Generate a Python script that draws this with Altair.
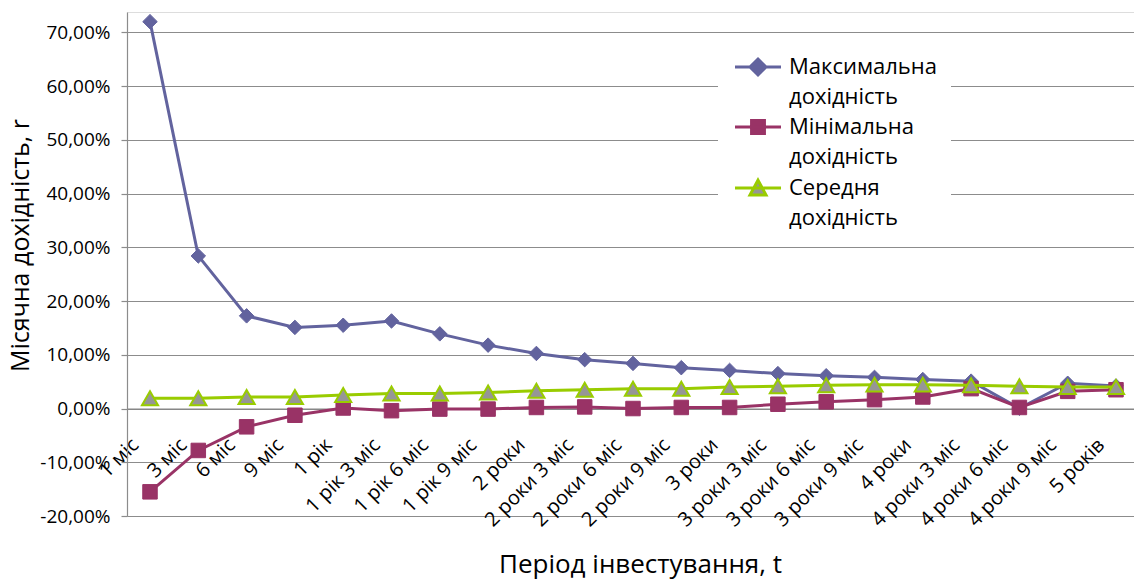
import altair as alt
import pandas as pd

periods = ["1 міс", "3 міс", "6 міс", "9 міс", "1 рік", "1 рік 3 міс", "1 рік 6 міс",
           "1 рік 9 міс", "2 роки", "2 роки 3 міс", "2 роки 6 міс", "2 роки 9 міс",
           "3 роки", "3 роки 3 міс", "3 роки 6 міс", "3 роки 9 міс", "4 роки",
           "4 роки 3 міс", "4 роки 6 міс", "4 роки 9 міс", "5 років"]
max_ret = [0.720, 0.284, 0.1725, 0.151, 0.155, 0.163, 0.139, 0.118, 0.1025, 0.091, 0.084,
           0.076, 0.071, 0.065, 0.061, 0.058, 0.054, 0.051, 0.0005, 0.047, 0.042]
min_ret = [-0.155, -0.078, -0.034, -0.0125, 0.001, -0.004, -0.001, -0.001, 0.002, 0.003, 0.0,
           0.002, 0.002, 0.008, 0.0125, 0.0165, 0.0215, 0.037, 0.002, 0.032, 0.035]
mean_ret = [0.019, 0.019, 0.0215, 0.0215, 0.025, 0.028, 0.028, 0.030, 0.033, 0.035, 0.037,
            0.037, 0.040, 0.0415, 0.0435, 0.0445, 0.0445, 0.0435, 0.0415, 0.040, 0.040]
series_names = ["Максимальна дохідність", "Мінімальна дохідність", "Середня дохідність"]
y_ticks = [-0.2, -0.1, 0.0, 0.1, 0.2, 0.3, 0.4, 0.5, 0.6, 0.7]

FONT = "Open Sans"
C_MAX, C_MIN, C_MEAN, C_GRAY = "#62639E", "#993366", "#99CC00", "#969696"
W, H = 1007, 504
Y_DOM = [-0.2, 0.738]
x_axis_offset = -(0 - Y_DOM[0]) / (Y_DOM[1] - Y_DOM[0]) * H

rows = []
for name, vals in zip(series_names, [max_ret, min_ret, mean_ret]):
    for p, v in zip(periods, vals):
        rows.append({"period": p, "value": v, "series": name})
df = pd.DataFrame(rows)

x_enc = alt.X("period:N", sort=periods,
              scale=alt.Scale(type="point", padding=0.4245, align=0.561),
              axis=alt.Axis(title="Період інвестування, t", labelAngle=-45, labelAlign="right",
                            labelBaseline="middle", labelPadding=33, labelOffset=-15,
                            ticks=False, tickSize=0, domainColor="#868686", domainWidth=1.2,
                            grid=False, offset=x_axis_offset, labelOverlap=False, labelLimit=400,
                            labelFont=FONT, labelFontSize=20, labelColor="black",
                            titleFont=FONT, titleFontSize=26, titleFontWeight="normal",
                            titleColor="black", titleX=513, titleY=164, titleAlign="center",
                            titleBaseline="alphabetic"))
y_enc = alt.Y("value:Q", scale=alt.Scale(domain=Y_DOM, nice=False, zero=False),
              axis=alt.Axis(title="Місячна дохідність, r", values=y_ticks,
                            labelExpr="replace(replace(format(datum.value, '.2%'), '.', ','), '\u2212', '-')",
                            grid=True, gridColor="#8c8c8c", gridWidth=1.2,
                            tickSize=6, tickColor="#8c8c8c", tickWidth=1.2,
                            domainColor="#8c8c8c", domainWidth=1.2, labelPadding=11,
                            labelFont=FONT, labelFontSize=19, labelColor="black",
                            titleFont=FONT, titleFontSize=25, titleFontWeight="normal",
                            titleColor="black", titleX=-107, titleY=233, titleAngle=-90,
                            titleAlign="center", titleBaseline="middle"))

base = alt.Chart(df)
layers = []
styles = [
    (series_names[0], C_MAX, C_MAX, "diamond", 210, 1),
    (series_names[1], C_MIN, C_MIN, "square", 210, 1),
    (series_names[2], C_MEAN, C_GRAY, "triangle-up", 260, 2),
]
for name, line_c, fill_c, shape, size, sw in styles:
    sub = base.transform_filter(alt.datum.series == name)
    layers.append(sub.mark_line(color=line_c, strokeWidth=3).encode(x=x_enc, y=y_enc))
    layers.append(sub.mark_point(shape=shape, filled=True, fill=fill_c, stroke=line_c,
                                 strokeWidth=sw, size=size, opacity=1).encode(x=x_enc, y=y_enc))

# legend glyphs: unit = 8 px (symbolSize 256); line spans 46 px from the entry's left edge
path_max = "M-1,0L4.75,0M1.875,-1.0L2.875,0L1.875,1.0L0.875,0Z"
path_min = "M-1,0L4.75,0M1.07,-0.8L2.68,-0.8L2.68,0.8L1.07,0.8Z"
path_mean = "M-1,0L4.75,0M1.875,-0.98L2.875,0.86L0.875,0.86Z"

leg = alt.Legend(title=None, orient="none", legendX=591, legendY=30, fillColor="white",
                 padding=14, symbolSize=256, symbolStrokeWidth=3, labelFont=FONT,
                 labelFontSize=22, labelColor="black", labelOffset=35, rowPadding=6,
                 labelExpr="split(datum.label, ' ')", labelLimit=400)
legend_layer = base.transform_filter("false").mark_point(filled=True, size=256, strokeWidth=3, opacity=1).encode(
    shape=alt.Shape("series:N", scale=alt.Scale(domain=series_names, range=[path_max, path_min, path_mean]), legend=leg),
    stroke=alt.Stroke("series:N", scale=alt.Scale(domain=series_names, range=[C_MAX, C_MIN, C_MEAN]), legend=leg),
    fill=alt.Fill("series:N", scale=alt.Scale(domain=series_names, range=[C_MAX, C_MIN, C_GRAY]), legend=leg),
)
layers.append(legend_layer)

chart = alt.layer(*layers).properties(
    width=W, height=H,
    autosize=alt.AutoSizeParams(type="none"),
    padding={"left": 127, "top": 12, "right": 0, "bottom": 65},
    background="white",
).configure_view(stroke=None).configure(style={"guide-label": {"lineHeight": 30}})

chart.save("out.html", embed_options={"renderer": "svg", "actions": False})
